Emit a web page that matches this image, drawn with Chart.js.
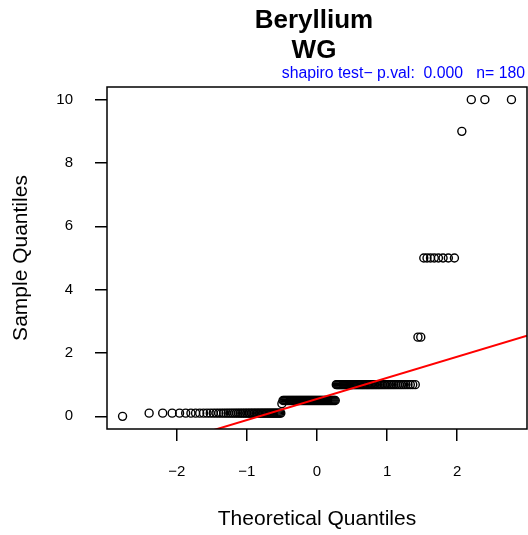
<!DOCTYPE html>
<html>
<head>
<meta charset="utf-8">
<script src="https://cdn.jsdelivr.net/npm/chart.js@4.4.1/dist/chart.umd.min.js"></script>
<style>
  html, body { margin: 0; padding: 0; background: #fff; }
  #chart { display: block; }
</style>
</head>
<body>
<canvas id="chart" width="528" height="535"></canvas>
<script>
// sorted sample values, stored as levels + how many times each appears (n = 180)
const sampleLevels = [0, 0.1, 0.4, 0.5, 1.0, 2.5, 5, 9, 10];
const sampleCounts = [1, 54, 1, 53, 57, 2, 8, 1, 3];

const xTicks = [-2, -1, 0, 1, 2];
const yTicks = [0, 2, 4, 6, 8, 10];

const titleLines = ["Beryllium", "WG"];
const testNote = "shapiro test\u2212 p.val:  0.000   n= 180";
const xTitle = "Theoretical Quantiles";
const yTitle = "Sample Quantiles";

const FONT = "'Liberation Sans', Arial, Helvetica, sans-serif";

// inverse normal cdf (Acklam)
function qnorm(p) {
  const a = [-3.969683028665376e+01, 2.209460984245205e+02, -2.759285104469687e+02, 1.383577518672690e+02, -3.066479806614716e+01, 2.506628277459239e+00];
  const b = [-5.447609879822406e+01, 1.615858368580409e+02, -1.556989798598866e+02, 6.680131188771972e+01, -1.328068155288572e+01];
  const c = [-7.784894002430293e-03, -3.223964580411365e-01, -2.400758277161838e+00, -2.549732539343734e+00, 4.374664141464968e+00, 2.938163982698783e+00];
  const d = [7.784695709041462e-03, 3.224671290700398e-01, 2.445134137142996e+00, 3.754408661907416e+00];
  const plow = 0.02425;
  let q, r;
  if (p < plow) {
    q = Math.sqrt(-2 * Math.log(p));
    return (((((c[0] * q + c[1]) * q + c[2]) * q + c[3]) * q + c[4]) * q + c[5]) / ((((d[0] * q + d[1]) * q + d[2]) * q + d[3]) * q + 1);
  }
  if (p > 1 - plow) {
    q = Math.sqrt(-2 * Math.log(1 - p));
    return -(((((c[0] * q + c[1]) * q + c[2]) * q + c[3]) * q + c[4]) * q + c[5]) / ((((d[0] * q + d[1]) * q + d[2]) * q + d[3]) * q + 1);
  }
  q = p - 0.5;
  r = q * q;
  return (((((a[0] * r + a[1]) * r + a[2]) * r + a[3]) * r + a[4]) * r + a[5]) * q / (((((b[0] * r + b[1]) * r + b[2]) * r + b[3]) * r + b[4]) * r + 1);
}

// R quantile type 7
function quantile(sorted, p) {
  const h = (sorted.length - 1) * p;
  const lo = Math.floor(h);
  const hi = Math.min(lo + 1, sorted.length - 1);
  return sorted[lo] + (h - lo) * (sorted[hi] - sorted[lo]);
}

const sample = [];
sampleLevels.forEach((v, i) => {
  for (let k = 0; k < sampleCounts[i]; k++) sample.push(v);
});
const n = sample.length;
const a = n <= 10 ? 3 / 8 : 0.5;
const points = sample.map((v, i) => ({ x: qnorm((i + 1 - a) / (n + 1 - 2 * a)), y: v }));

// qqline through the quartiles
const q1 = quantile(sample, 0.25), q3 = quantile(sample, 0.75);
const z1 = qnorm(0.25), z3 = qnorm(0.75);
const slope = (q3 - q1) / (z3 - z1);
const intercept = q1 - slope * z1;

// R style 4% axis extension
const xr = [points[0].x, points[n - 1].x];
const yr = [sample[0], sample[n - 1]];
const xPad = (xr[1] - xr[0]) * 0.04, yPad = (yr[1] - yr[0]) * 0.04;
const xMin = xr[0] - xPad, xMax = xr[1] + xPad;
const yMin = yr[0] - yPad, yMax = yr[1] + yPad;

const linePts = [
  { x: xMin, y: intercept + slope * xMin },
  { x: xMax, y: intercept + slope * xMax },
];

const frame = {
  id: "frame",
  afterDraw(chart) {
    const { ctx, chartArea } = chart;
    const cx = (chartArea.left + chartArea.right) / 2 - 3;
    ctx.save();
    ctx.strokeStyle = "#000";
    ctx.lineWidth = 1.5;
    ctx.strokeRect(chartArea.left, chartArea.top, chartArea.right - chartArea.left, chartArea.bottom - chartArea.top);

    ctx.fillStyle = "#000";
    ctx.textAlign = "center";
    ctx.textBaseline = "middle";
    ctx.font = "bold 26px " + FONT;
    ctx.fillText(titleLines[0], cx, 21);
    ctx.fillText(titleLines[1], cx, 51);

    ctx.fillStyle = "#0000ff";
    ctx.textAlign = "right";
    ctx.font = "15.8px " + FONT;
    ctx.fillText(testNote, chartArea.right - 2, 74);
    ctx.restore();
  },
};

const minus = (v) => (v < 0 ? "\u2212" + Math.abs(v) : String(v));

new Chart(document.getElementById("chart"), {
  type: "scatter",
  data: {
    datasets: [
      {
        label: "sample",
        data: points,
        showLine: false,
        pointStyle: "circle",
        pointRadius: 4,
        pointHoverRadius: 4,
        pointBorderWidth: 1.4,
        pointBorderColor: "#000",
        pointBackgroundColor: "rgba(0,0,0,0)",
        order: 1,
      },
      {
        label: "qqline",
        data: linePts,
        showLine: true,
        borderColor: "#ff0000",
        borderWidth: 2,
        pointRadius: 0,
        clip: 0,
        order: 0,
      },
    ],
  },
  options: {
    responsive: false,
    animation: false,
    devicePixelRatio: 1,
    layout: { autoPadding: false, padding: { top: 87, right: 1, left: 0, bottom: 0 } },
    plugins: {
      legend: { display: false },
      tooltip: { enabled: false },
    },
    scales: {
      x: {
        type: "linear",
        min: xMin,
        max: xMax,
        afterFit: (s) => { s.height = 106; },
        afterBuildTicks: (s) => { s.ticks = xTicks.map((v) => ({ value: v })); },
        grid: { display: true, drawOnChartArea: false, drawTicks: true, tickLength: 12, color: "#000", lineWidth: 1.5 },
        border: { display: false },
        ticks: {
          color: "#000",
          padding: 22,
          maxRotation: 0,
          autoSkip: false,
          font: { family: FONT, size: 15 },
          callback: (v) => minus(v),
        },
        title: {
          display: true,
          text: xTitle,
          color: "#000",
          font: { family: FONT, size: 21 },
          padding: { top: 0, bottom: 3 },
        },
      },
      y: {
        type: "linear",
        min: yMin,
        max: yMax,
        afterFit: (s) => { s.width = 107; },
        afterBuildTicks: (s) => { s.ticks = yTicks.map((v) => ({ value: v })); },
        grid: { display: true, drawOnChartArea: false, drawTicks: true, tickLength: 12, color: "#000", lineWidth: 1.5 },
        border: { display: false },
        ticks: {
          color: "#000",
          padding: 22,
          autoSkip: false,
          font: { family: FONT, size: 15 },
          callback: (v) => minus(v),
        },
        title: {
          display: true,
          text: yTitle,
          color: "#000",
          font: { family: FONT, size: 21 },
          padding: { top: 9, bottom: 0 },
        },
      },
    },
  },
  plugins: [frame],
});
</script>
</body>
</html>
